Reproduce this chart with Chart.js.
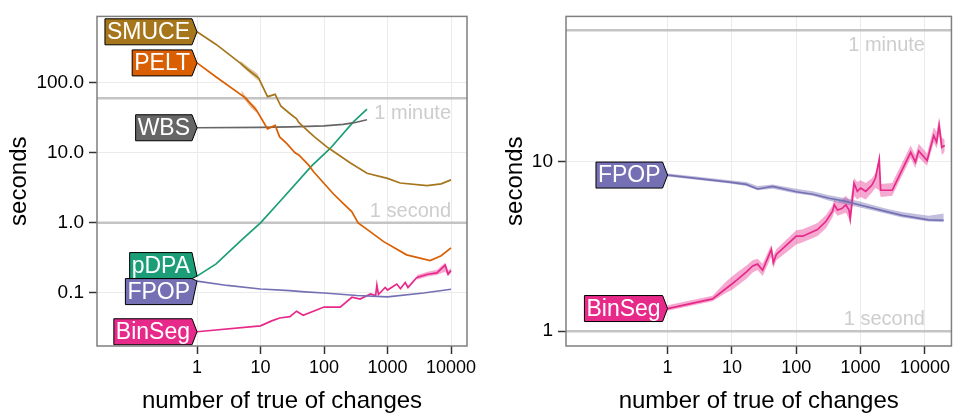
<!DOCTYPE html>
<html>
<head>
<meta charset="utf-8">
<script src="https://cdn.jsdelivr.net/npm/chart.js@4.4.1/dist/chart.umd.min.js"></script>
<style>
  html, body { margin: 0; padding: 0; background: #fff; }
  .panel { position: absolute; top: 0; height: 413px; }
  #leftBox { left: 0; width: 480px; }
  #rightBox { left: 480px; width: 473px; }
</style>
</head>
<body>
<div class="panel" id="leftBox"><canvas id="leftChart"></canvas></div>
<div class="panel" id="rightBox"><canvas id="rightChart"></canvas></div>
<script>
// axis ticks
const xTicks = [1, 10, 100, 1000, 10000];
const xTickLabels = ['1', '10', '100', '1000', '10000'];
const leftYTicks = [0.1, 1, 10, 100];
const leftYLabels = ['0.1', '1.0', '10.0', '100.0'];
const rightYTicks = [1, 10];
const rightYLabels = ['1', '10'];

// reference lines (seconds)
const refValues = [60, 1];
const refLabels = ['1 minute', '1 second'];

// left panel: all algorithms
const smuceX = [1, 2, 4.8, 6.5, 9.3, 12.9, 17, 21, 29.5, 37, 40, 47.5, 70, 112, 140, 257, 475, 1000, 1580, 4200, 7000, 10000];
const smuceY = [530, 350, 190, 150, 117, 63, 68, 46, 35.7, 30.4, 27, 23.4, 17, 12, 10.5, 7.2, 5.1, 4.3, 3.7, 3.4, 3.6, 4.1];
const peltX = [1, 2, 5.7, 8.7, 12.9, 17, 20, 26, 35, 40, 57, 68, 140, 200, 273, 345, 500, 870, 2000, 4700, 7000, 10000];
const peltY = [191, 120, 61, 40, 21.9, 24.5, 16.8, 13.5, 10, 9.3, 6.7, 5.4, 2.6, 1.9, 1.45, 1.0, 0.78, 0.54, 0.35, 0.29, 0.34, 0.44];
const wbsX = [1, 10, 30, 100, 200, 300, 475];
const wbsY = [22.7, 23.0, 23.4, 24.2, 25.3, 26.8, 29.5];
const pdpaX = [1, 2, 5.1, 10, 20, 64, 125, 290, 475];
const pdpaY = [0.174, 0.26, 0.575, 1.0, 2.0, 6.5, 11.5, 27.5, 42];
const fpopX = [1, 3, 10, 29, 50, 100, 330, 1000, 3700, 10000];
const fpopY = [0.148, 0.128, 0.114, 0.108, 0.104, 0.1, 0.092, 0.088, 0.1, 0.113];
const binsegX = [1, 10, 15, 20, 29, 37, 47, 100, 180, 275, 370, 540, 650, 680, 720, 920, 1000, 1400, 1600, 1900, 2100, 2900, 4300, 6000, 8100, 9000, 10000];
const binsegY = [0.028, 0.034, 0.04, 0.044, 0.046, 0.055, 0.048, 0.063, 0.063, 0.087, 0.082, 0.097, 0.092, 0.13, 0.095, 0.12, 0.11, 0.134, 0.115, 0.141, 0.12, 0.166, 0.185, 0.193, 0.25, 0.185, 0.21];

// left panel: visible min/max bands
const smuceBandX = [4.8, 6.5, 8, 9.3];
const smuceBandLo = [180, 140, 118, 105];
const smuceBandHi = [205, 165, 145, 130];
const peltBandX = [5, 5.7, 7, 8.7];
const peltBandLo = [68, 56, 44, 37];
const peltBandHi = [78, 66, 53, 44];
const binsegBandX = [2900, 4300, 6000, 8100, 9000, 10000];
const binsegBandLo = [0.155, 0.172, 0.18, 0.2, 0.175, 0.195];
const binsegBandHi = [0.18, 0.2, 0.215, 0.27, 0.21, 0.225];

// right panel: FPOP vs BinSeg with min/max bands
const fpopRX = [1, 2.8, 9.2, 16.7, 25, 43, 100, 180, 325, 590, 940, 2450, 4400, 11400, 19600];
const fpopRY = [8.36, 8.0, 7.6, 7.36, 6.92, 7.16, 6.66, 6.44, 6.1, 5.84, 5.58, 5.1, 4.83, 4.55, 4.52];
const fpopRLo = [8.2, 7.85, 7.45, 7.2, 6.8, 6.95, 6.5, 6.3, 5.9, 5.6, 5.4, 4.95, 4.7, 4.45, 4.4];
const fpopRHi = [8.55, 8.2, 7.8, 7.6, 7.2, 7.35, 6.95, 6.7, 6.35, 6.1, 5.85, 5.3, 5.05, 4.8, 4.95];
const binsegRX = [1, 5, 8, 10, 12, 17, 21, 25, 30, 41, 44, 49, 100, 126, 214, 290, 365, 390, 437, 510, 590, 660, 690, 790, 890, 1000, 1200, 1500, 1700, 1950, 2050, 3100, 6000, 7100, 8000, 10800, 13700, 15200, 16600, 18300, 20300];
const binsegRY = [1.36, 1.55, 1.78, 1.9, 2.01, 2.25, 2.43, 2.49, 2.29, 3.04, 2.54, 2.84, 3.64, 3.64, 3.98, 4.46, 5.1, 5.58, 5.2, 5.3, 5.58, 5.2, 4.6, 7.47, 6.7, 7.0, 6.7, 7.3, 8.0, 10.4, 6.8, 6.8, 11.4, 10.0, 11.6, 10.2, 14.3, 13.1, 16.4, 12.2, 12.5];
const binsegRLo = [1.32, 1.5, 1.68, 1.75, 1.85, 2.05, 2.22, 2.3, 2.12, 2.75, 2.35, 2.62, 3.25, 3.35, 3.65, 4.05, 4.7, 5.1, 4.8, 4.9, 5.0, 4.6, 4.3, 6.3, 6.0, 6.2, 6.0, 6.6, 7.0, 6.8, 6.2, 6.3, 10.5, 9.2, 10.6, 9.5, 13.0, 12.0, 14.5, 11.0, 11.5];
const binsegRHi = [1.42, 1.62, 1.95, 2.1, 2.22, 2.45, 2.62, 2.68, 2.5, 3.25, 2.8, 3.05, 3.95, 4.0, 4.35, 4.85, 5.5, 6.0, 5.8, 6.0, 6.3, 6.0, 5.9, 8.0, 7.6, 7.8, 7.5, 8.0, 8.6, 10.6, 7.4, 7.5, 12.5, 11.0, 12.8, 11.2, 16.0, 15.0, 18.5, 14.0, 13.5];

const colors = {
  SMUCE: '#A6761D', PELT: '#D95F02', WBS: '#666666',
  pDPA: '#1B9E77', FPOP: '#7570B3', BinSeg: '#E7298A'
};
const bandColors = {
  SMUCE: 'rgba(166,118,29,0.4)', PELT: 'rgba(217,95,2,0.4)',
  FPOP: 'rgba(117,112,179,0.45)', BinSeg: 'rgba(231,41,138,0.4)'
};
const FONT = '"Liberation Sans", Arial, Helvetica, sans-serif';

function pts(xs, ys) {
  return xs.map((x, i) => ({ x: x, y: ys[i] }));
}

function lineSet(name, xs, ys) {
  return {
    label: name, data: pts(xs, ys), borderColor: colors[name],
    borderWidth: 1.7, pointRadius: 0, tension: 0, fill: false, order: 0
  };
}

function bandSets(name, xs, lo, hi) {
  return [
    { label: '', isBand: true, data: pts(xs, lo), borderWidth: 0, pointRadius: 0, fill: false, order: 1 },
    { label: '', isBand: true, data: pts(xs, hi), borderWidth: 0, pointRadius: 0,
      fill: '-1', backgroundColor: bandColors[name], order: 1 }
  ];
}

// reference lines, direct labels and panel border
const overlayPlugin = {
  id: 'overlay',
  beforeDatasetsDraw(chart) {
    const { ctx, chartArea: a, scales: { x, y } } = chart;
    ctx.save();
    ctx.beginPath();
    ctx.rect(a.left, a.top, a.right - a.left, a.bottom - a.top);
    ctx.clip();
    const tx = x.getPixelForValue(xTicks[xTicks.length - 1]);
    refValues.forEach((v, i) => {
      const py = y.getPixelForValue(v);
      ctx.strokeStyle = '#C4C4C4';
      ctx.lineWidth = 2.5;
      ctx.beginPath();
      ctx.moveTo(a.left, py);
      ctx.lineTo(a.right, py);
      ctx.stroke();
      ctx.fillStyle = '#CDCDCD';
      ctx.font = '20px ' + FONT;
      ctx.textAlign = 'right';
      if (i === 0) {
        ctx.textBaseline = 'top';
        ctx.fillText(refLabels[i], tx, py + 5);
      } else {
        ctx.textBaseline = 'alphabetic';
        ctx.fillText(refLabels[i], tx, py - 6);
      }
    });
    ctx.restore();
  },
  afterDatasetsDraw(chart) {
    const { ctx } = chart;
    const boxH = 26;
    ctx.save();
    ctx.font = '23px ' + FONT;
    const boxes = [];
    chart.data.datasets.forEach((ds, i) => {
      if (ds.isBand) return;
      const p = chart.getDatasetMeta(i).data[0];
      boxes.push({ name: ds.label, tipX: p.x, tipY: p.y, cy: p.y, w: ctx.measureText(ds.label).width });
    });
    // push overlapping labels apart
    boxes.sort((a, b) => a.cy - b.cy);
    for (let k = 1; k < boxes.length; k++) {
      const over = (boxes[k - 1].cy + boxH / 2) - (boxes[k].cy - boxH / 2);
      if (over > 0) {
        boxes[k - 1].cy -= over / 2;
        boxes[k].cy += over / 2;
      }
    }
    boxes.forEach(b => {
      const right = b.tipX - 5;
      const left = right - b.w - 4;
      const top = b.cy - boxH / 2;
      const bottom = b.cy + boxH / 2;
      const ty = Math.min(Math.max(b.tipY, top + 1), bottom - 1);
      ctx.beginPath();
      ctx.moveTo(left, top);
      ctx.lineTo(right, top);
      ctx.lineTo(b.tipX, ty);
      ctx.lineTo(right, bottom);
      ctx.lineTo(left, bottom);
      ctx.closePath();
      ctx.fillStyle = colors[b.name];
      ctx.fill();
      ctx.strokeStyle = '#000';
      ctx.lineWidth = 1;
      ctx.stroke();
      ctx.fillStyle = '#fff';
      ctx.textAlign = 'right';
      ctx.textBaseline = 'middle';
      ctx.fillText(b.name, right - 2, b.cy + 1);
    });
    ctx.restore();
  },
  afterDraw(chart) {
    const { ctx, chartArea: a } = chart;
    ctx.save();
    ctx.strokeStyle = '#7F7F7F';
    ctx.lineWidth = 1.5;
    ctx.strokeRect(a.left, a.top, a.right - a.left, a.bottom - a.top);
    ctx.restore();
  }
};

function makeChart(id, datasets, cfg) {
  const ctx = document.getElementById(id).getContext('2d');
  return new Chart(ctx, {
    type: 'line',
    data: { datasets: datasets },
    options: {
      responsive: true,
      maintainAspectRatio: false,
      animation: false,
      events: [],
      layout: { padding: { top: 13, right: cfg.padRight, bottom: 0, left: 0 } },
      plugins: { legend: { display: false }, tooltip: { enabled: false } },
      scales: {
        x: {
          type: 'logarithmic',
          min: cfg.xMin, max: cfg.xMax,
          afterBuildTicks: s => { s.ticks = xTicks.map(v => ({ value: v })); },
          afterFit: s => { s.height = 67; },
          grid: { color: '#EBEBEB', lineWidth: 1, tickColor: '#333', tickLength: 8, tickWidth: 1.5 },
          border: { display: false },
          ticks: {
            autoSkip: false, maxRotation: 0, padding: 3, color: '#000',
            font: { family: FONT, size: 18 },
            callback: (v, i) => xTickLabels[i]
          },
          title: {
            display: true, text: 'number of true of changes', color: '#000',
            font: { family: FONT, size: 24, lineHeight: 1 },
            padding: { top: 0, bottom: 0 }
          }
        },
        y: {
          type: 'logarithmic',
          min: cfg.yMin, max: cfg.yMax,
          afterBuildTicks: s => { s.ticks = cfg.yTicks.map(v => ({ value: v })); },
          afterFit: s => { s.width = cfg.yWidth; },
          grid: { color: '#EBEBEB', lineWidth: 1, tickColor: '#333', tickLength: 8, tickWidth: 1.5 },
          border: { display: false },
          ticks: {
            autoSkip: false, padding: 5, color: '#000',
            font: { family: FONT, size: 19 },
            callback: (v, i) => cfg.yLabels[i]
          },
          title: {
            display: true, text: 'seconds', color: '#000',
            font: { family: FONT, size: 24, lineHeight: 1 },
            padding: { top: cfg.titlePad, bottom: 0 }
          }
        }
      }
    },
    plugins: [overlayPlugin]
  });
}

makeChart('leftChart', [
  lineSet('SMUCE', smuceX, smuceY),
  lineSet('PELT', peltX, peltY),
  lineSet('WBS', wbsX, wbsY),
  lineSet('pDPA', pdpaX, pdpaY),
  lineSet('FPOP', fpopX, fpopY),
  lineSet('BinSeg', binsegX, binsegY),
  ...bandSets('SMUCE', smuceBandX, smuceBandLo, smuceBandHi),
  ...bandSets('PELT', peltBandX, peltBandLo, peltBandHi),
  ...bandSets('BinSeg', binsegBandX, binsegBandLo, binsegBandHi)
], {
  xMin: 0.0266, xMax: 17860, yMin: 0.01754, yMax: 879,
  yTicks: leftYTicks, yLabels: leftYLabels, yWidth: 97, padRight: 13, titlePad: 7
});

makeChart('rightChart', [
  lineSet('FPOP', fpopRX, fpopRY),
  lineSet('BinSeg', binsegRX, binsegRY),
  ...bandSets('FPOP', fpopRX, fpopRLo, fpopRHi),
  ...bandSets('BinSeg', binsegRX, binsegRLo, binsegRHi)
], {
  xMin: 0.02636, xMax: 25820, yMin: 0.817, yMax: 72.4,
  yTicks: rightYTicks, yLabels: rightYLabels, yWidth: 86, padRight: 0.5, titlePad: 23
});
</script>
</body>
</html>
